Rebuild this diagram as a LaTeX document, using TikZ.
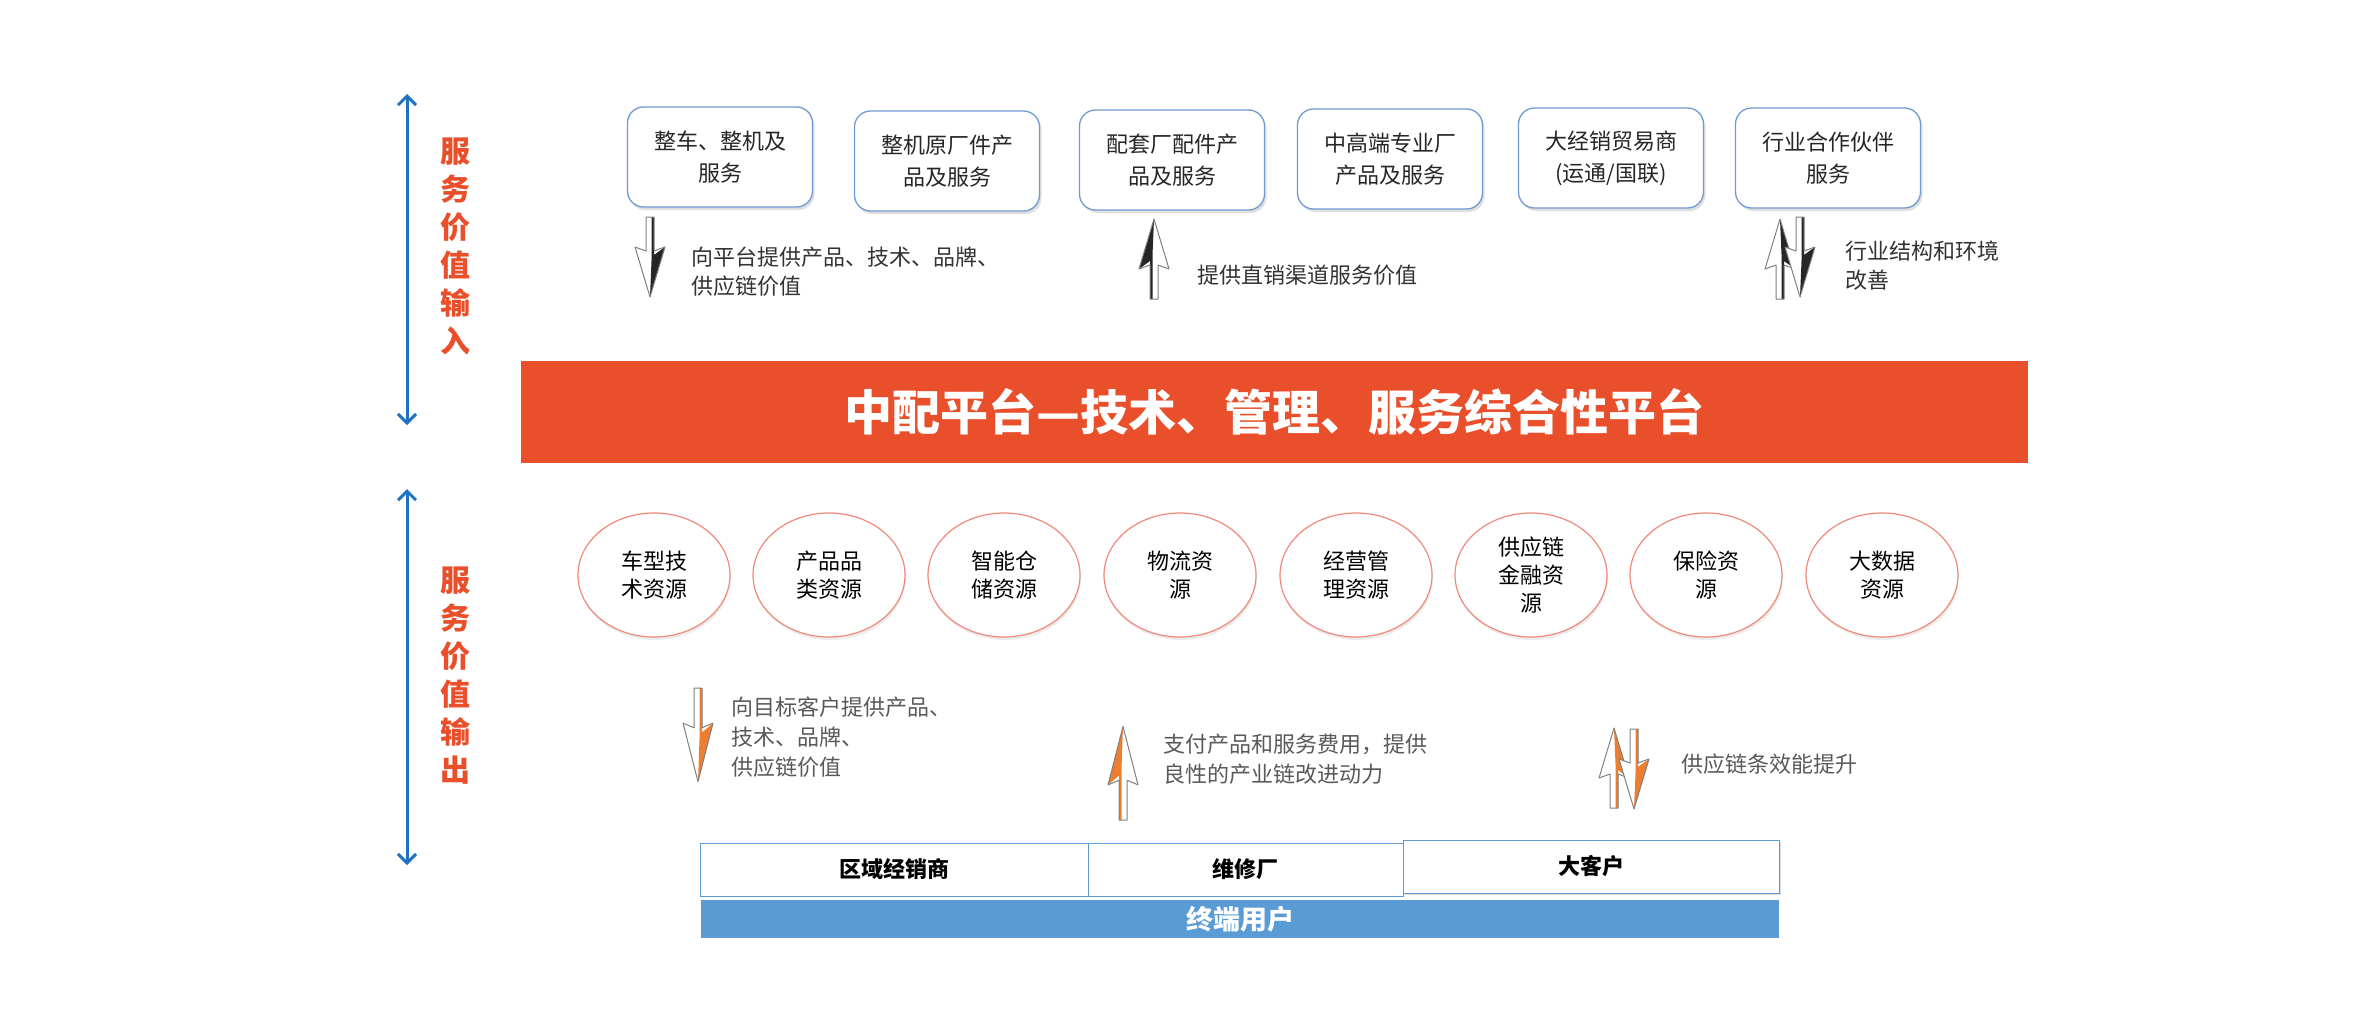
\documentclass[tikz,border=0pt]{standalone}
\usepackage{fontspec}
\setmainfont{Noto Sans CJK SC}
\usetikzlibrary{arrows.meta,shadows,shapes.geometric}

\definecolor{platformred}{HTML}{E94F2B}
\definecolor{valueblue}{HTML}{1F72C1}
\definecolor{boxblue}{HTML}{6F9BD2}
\definecolor{ringred}{HTML}{EF8A78}
\definecolor{userblue}{HTML}{5B9BD5}
\definecolor{arroworange}{HTML}{ED7D31}
\definecolor{notegray}{HTML}{595959}

\tikzset{
  srcbox/.style={draw=boxblue, line width=1.3pt, fill=white, rounded corners=16pt,
    minimum width=185pt, minimum height=100pt, align=center, text=black!85,
    drop shadow={opacity=0.25, shadow xshift=2pt, shadow yshift=-3pt},
    font=\fontsize{22}{32}\selectfont},
  resring/.style={ellipse, draw=ringred, line width=1.2pt, fill=white,
    minimum width=152pt, minimum height=124pt, inner sep=0pt, align=center,
    drop shadow={opacity=0.15, shadow xshift=1pt, shadow yshift=-3pt},
    font=\fontsize{22}{28}\selectfont},
  sidelabel/.style={align=center, text=platformred,
    font=\fontsize{30}{38}\selectfont\bfseries},
  valarrow/.style={{Straight Barb[length=9pt,width=18pt,line width=3pt]}-{Straight Barb[length=9pt,width=18pt,line width=3pt]},
    draw=valueblue, line width=3pt},
  topnote/.style={anchor=west, align=left, text=black!80,
    font=\fontsize{22}{29}\selectfont},
  lownote/.style={anchor=west, align=left, text=notegray,
    font=\fontsize{22}{30}\selectfont},
  userbox/.style={draw=userblue, line width=0.8pt, fill=white, minimum height=53pt,
    inner sep=0pt, font=\fontsize{22}{26}\selectfont\bfseries},
  pics/flatarrow/.style={code={
    \fill[white] (-4,0) -- (4,0) -- (4,34) -- (15,30) -- (0,80) -- (-15,30) -- (-4,34) -- cycle;
    \fill[#1] (0,80) -- (15,30) -- (4,38) -- (4,0) -- (1.5,0) -- (1.5,44) -- cycle;
    \draw[gray, line width=1pt, line join=round]
      (-4,0) -- (4,0) -- (4,34) -- (15,30) -- (0,80) -- (-15,30) -- (-4,34) -- cycle;
  }}
}

\begin{document}
\begin{tikzpicture}[x=1pt, y=-1pt]

    %% Value chain of the platform
    \useasboundingbox (0, 0) rectangle (2380, 1020);

    % Side arrows
    \coordinate (inTop) at (407, 94);
    \coordinate (inBot) at (407, 425);
    \coordinate (outTop) at (407, 489);
    \coordinate (outBot) at (407, 865);
    \draw[valarrow] (inTop) -- (inBot);
    \draw[valarrow] (outTop) -- (outBot);
    \node[sidelabel] (inlabel) at (455, 246) {服\\务\\价\\值\\输\\入};
    \node[sidelabel] (outlabel) at (455, 676) {服\\务\\价\\值\\输\\出};

    % Suppliers
    \node[srcbox] (whole) at (720, 157) {整车、整机及\\服务};
    \node[srcbox] (oem) at (947, 161) {整机原厂件产\\品及服务};
    \node[srcbox] (oes) at (1172, 160) {配套厂配件产\\品及服务};
    \node[srcbox] (highend) at (1390, 159) {中高端专业厂\\产品及服务};
    \node[srcbox] (trader) at (1611, 158) {大经销贸易商\\(运通/国联)};
    \node[srcbox] (partner) at (1828, 158) {行业合作伙伴\\服务};

    % Input arrows
    \pic at (650, 217) {flatarrow=black!85};
    \node[topnote] (inNoteA) at (688, 272) {向平台提供产品、技术、品牌、\\供应链价值};
    \pic[rotate=180] at (1154, 299) {flatarrow=black!85};
    \node[topnote] (inNoteB) at (1194, 275) {提供直销渠道服务价值};
    \pic[yscale=-1] at (1780, 299) {flatarrow=black!85};
    \pic at (1800, 217) {flatarrow=black!85};
    \node[topnote] (inNoteC) at (1842, 266) {行业结构和环境\\改善};

    % Platform bar
    \node[fill=platformred, minimum width=1507pt, minimum height=102pt, inner sep=0pt,
      text=white, font=\fontsize{48}{52}\selectfont\bfseries] (platform) at (1274.5, 412)
      {中配平台—技术、管理、服务综合性平台};

    % Resources
    \node[resring] (tech) at (654, 575) {车型技\\术资源};
    \node[resring] (category) at (829, 575) {产品品\\类资源};
    \node[resring] (storage) at (1004, 575) {智能仓\\储资源};
    \node[resring] (logistics) at (1180, 575) {物流资\\源};
    \node[resring] (mgmt) at (1356, 575) {经营管\\理资源};
    \node[resring] (finance) at (1531, 575) {供应链\\金融资\\源};
    \node[resring] (insurance) at (1706, 575) {保险资\\源};
    \node[resring] (bigdata) at (1882, 575) {大数据\\资源};

    % Output arrows
    \pic[yscale=1.17] at (698, 688) {flatarrow=arroworange};
    \node[lownote] (outNoteA) at (728, 737) {向目标客户提供产品、\\技术、品牌、\\供应链价值};
    \pic[rotate=180, yscale=1.17] at (1123, 820) {flatarrow=arroworange};
    \node[lownote] (outNoteB) at (1160, 759) {支付产品和服务费用，提供\\良性的产业链改进动力};
    \pic[yscale=-1] at (1614, 808) {flatarrow=arroworange};
    \pic at (1634, 729) {flatarrow=arroworange};
    \node[lownote] (outNoteC) at (1678, 764) {供应链条效能提升};

    % Customers
    \node[userbox, minimum width=388pt] (dealer) at (894, 869.5) {区域经销商};
    \node[userbox, minimum width=315pt] (repair) at (1245.5, 869.5) {维修厂};
    \node[userbox, minimum width=376pt,
      drop shadow={opacity=0.3, shadow xshift=2pt, shadow yshift=-2pt}] (bigcust) at (1591, 866.5) {大客户};
    \node[fill=userblue, minimum width=1078pt, minimum height=38pt, inner sep=0pt,
      text=white, font=\fontsize{27}{30}\selectfont\bfseries] (enduser) at (1240, 919) {终端用户};

\end{tikzpicture}
\end{document}
